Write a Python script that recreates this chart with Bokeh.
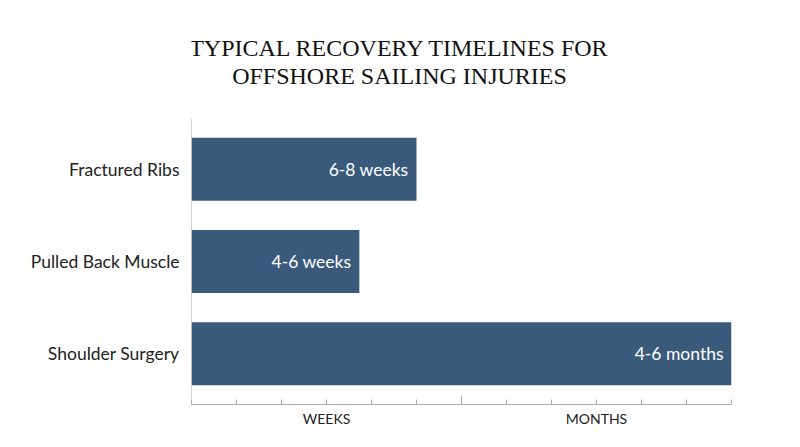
from bokeh.plotting import figure
from bokeh.models import Range1d, FixedTicker, ColumnDataSource
from bokeh.core.properties import value
from bokeh.embed import file_html
from bokeh.resources import INLINE

categories = ["Fractured Ribs", "Pulled Back Muscle", "Shoulder Surgery"]
durations = [5.0, 3.73, 12.0]
bar_labels = ["6-8 weeks", "4-6 weeks", "4-6 months"]
axis_labels = {3: "WEEKS", 9: "MONTHS"}
axis_ticks = list(range(0, 13))
section_split = 6
title_lines = ["TYPICAL RECOVERY TIMELINES FOR", "OFFSHORE SAILING INJURIES"]

# layout (pixels)
W, H = 784, 431
LEFT, RIGHT, BOTTOM = 191, 53, 27
PLOT_TOP = 118              # top of the bar area
TITLE_Y = [47, 75]          # title line centres
TITLE_X = 399
PAD_LO, PAD_HI = -0.55, 2.55

frame_h = H - BOTTOM
ppu = (frame_h - PLOT_TOP) / (PAD_HI - PAD_LO)
y_top = PAD_HI - frame_h / ppu
x_ppu = (W - LEFT - RIGHT) / 12.0

def y_at(px):
    return PAD_HI - (frame_h - px) / ppu

ypos = list(range(len(categories)))
src = ColumnDataSource(dict(y=ypos, right=durations, label=bar_labels))

p = figure(width=W, height=H, output_backend="svg", toolbar_location=None, title=None,
           x_range=Range1d(0, 12), y_range=Range1d(PAD_HI, y_top),
           min_border_left=LEFT, min_border_right=RIGHT, min_border_bottom=BOTTOM, min_border_top=0)
p.outline_line_color = None
p.grid.grid_line_color = None
p.background_fill_color = "white"

bar_color = "#3a5a7c"
p.hbar(y="y", left=0, right="right", height=0.685, source=src, color=bar_color, line_color=None)
p.text(x="right", y="y", text="label", source=src, x_offset=-8, text_align="right",
       text_baseline="middle", text_color="white", text_font=value("Lato"), text_font_size="17.5px")

# vertical axis line only over bar area
p.segment(x0=[0], x1=[0], y0=[PAD_LO], y1=[PAD_HI], line_color="#aaaaaa", line_width=1)
# taller tick at the weeks/months split
p.segment(x0=[section_split], x1=[section_split], y0=[PAD_HI], y1=[PAD_HI - 9 / ppu],
          line_color="#aaaaaa", line_width=1)

# title
p.text(x=[(TITLE_X - LEFT) / x_ppu] * 2, y=[y_at(v) for v in TITLE_Y], text=title_lines,
       text_align="center", text_baseline="middle", text_color="#111111",
       text_font=value("Liberation Serif"), text_font_size="24px")

xa = p.xaxis[0]
xa.ticker = FixedTicker(ticks=list(axis_labels.keys()), minor_ticks=axis_ticks)
xa.major_label_overrides = {k: v for k, v in axis_labels.items()}
xa.major_tick_in = 0
xa.major_tick_out = 0
xa.minor_tick_in = 5
xa.minor_tick_out = 0
xa.minor_tick_line_color = "#aaaaaa"
xa.axis_line_color = "#aaaaaa"
xa.major_label_text_font = "Lato"
xa.major_label_text_font_size = "14px"
xa.major_label_text_color = "#222222"
xa.major_label_standoff = 5

ya = p.yaxis[0]
ya.ticker = FixedTicker(ticks=ypos, minor_ticks=[])
ya.major_label_overrides = {i: c for i, c in zip(ypos, categories)}
ya.major_tick_in = 0
ya.major_tick_out = 0
ya.axis_line_color = None
ya.major_label_text_font = "Lato"
ya.major_label_text_font_size = "17.5px"
ya.major_label_text_color = "#222222"
ya.major_label_standoff = 12

open("out.html", "w").write(file_html(p, INLINE))
